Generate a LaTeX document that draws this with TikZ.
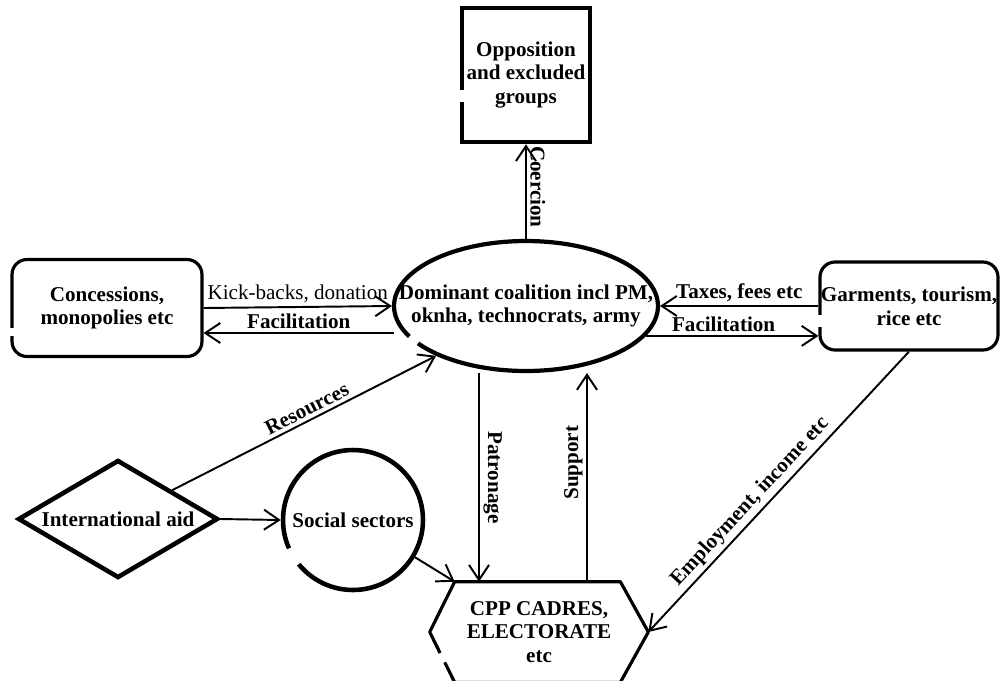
\documentclass[tikz,border=0pt]{standalone}
\usepackage{fontspec}
\setmainfont{Liberation Serif}
\usetikzlibrary{arrows.meta,shapes.geometric,calc}
\begin{document}
\begin{tikzpicture}[x=0.02cm,y=-0.02cm,
  txt/.style={font=\fontsize{12}{13.5}\selectfont\bfseries, align=center},
  lab/.style={font=\fontsize{12}{13.5}\selectfont\bfseries, inner sep=2pt},
  plainlab/.style={font=\fontsize{12}{13.5}\selectfont, inner sep=2pt},
  arr/.style={-{Straight Barb[length=0.3cm,width=0.4cm,line width=1.1pt]}, line width=1.1pt},
  heavy/.style={draw, line width=2.6pt},
  medium/.style={draw, line width=1.8pt},
  gapst/.style={white, line width=4pt},
  widegap/.style={white, line width=6.2pt},
]
\useasboundingbox (0,0) rectangle (1000,680);

% nodes
\node[txt, heavy, minimum width=2.56cm, minimum height=2.68cm, inner sep=0pt] (opp) at (526,75) {Opposition\\and excluded\\groups};
\node[ellipse, heavy, line width=2.4pt, minimum width=5.28cm, minimum height=2.6cm, inner sep=0pt] (dom) at (526,306) {};
\node[txt] (domtext) at (dom) {Dominant coalition incl PM,\\oknha, technocrats, army};
\node[txt, medium, rounded corners=0.3cm, minimum width=3.8cm, minimum height=1.94cm] (con) at (107,308) {Concessions,\\monopolies etc};
\node[txt, medium, rounded corners=0.3cm, minimum width=3.56cm, minimum height=1.76cm, inner sep=0pt] (gar) at (909,306) {Garments, tourism,\\rice etc};
\node[diamond, heavy, minimum width=4cm, minimum height=2.36cm, inner sep=0pt] (aid) at (118,519) {};
\node[txt] (aidtext) at (aid) {International aid};
\node[circle, heavy, minimum size=2.8cm, inner sep=0pt] (soc) at (353,520) {};
\node[txt] (soctext) at (soc) {Social sectors};
\node[txt, minimum width=4.36cm, minimum height=2cm] (cpp) at (539,632) {CPP CADRES,\\ELECTORATE\\etc};
\coordinate (cppTL) at ([xshift=0.5cm]cpp.north west);
\coordinate (cppTR) at ([xshift=-0.56cm]cpp.north east);
\coordinate (cppBR) at ([xshift=-0.56cm]cpp.south east);
\coordinate (cppBL) at ([xshift=0.5cm]cpp.south west);
\draw[line width=1.8pt, line join=round] (cpp.west) -- (cppTL) -- (cppTR) -- (cpp.east) -- (cppBR) -- (cppBL) -- cycle;

% hand-drawn breaks in the outlines
\draw[widegap] ([yshift=-0.3cm]opp.west) -- ([yshift=-0.54cm]opp.west);
\draw[widegap] ([yshift=-0.4cm]con.west) -- ([yshift=-0.56cm]con.west);
\draw[widegap] ([yshift=-0.18cm]gar.west) -- ([yshift=-0.42cm]gar.west);
\draw[gapst] (soc.center) ++(204:1.4cm) arc[start angle=204, end angle=219, radius=1.4cm];
\draw[gapst] ($(cpp.west)!0.42!(cppBL)$) -- ($(cpp.west)!0.6!(cppBL)$);
\draw[gapst] (dom.center) ++(208:2.64cm and 1.3cm) arc[start angle=208, end angle=215, x radius=2.64cm, y radius=1.3cm];

% connectors
\draw[arr] (dom.north) -- (opp.south) node[lab, pos=0.55, rotate=-90, anchor=south] {Coercion};

\draw[arr] (con.east) -- (dom.west) node[plainlab, midway, above] {Kick-backs, donation};
\coordinate (domL) at ([yshift=-0.54cm,xshift=0.04cm]dom.west);
\draw[arr] (domL) -- (domL -| con.east) node[lab, midway, above] {Facilitation};

\draw[arr] (gar.west) -- (dom.east) node[lab, midway, above] {Taxes, fees etc};
\coordinate (domR) at (dom.-14);
\draw[arr] (domR) -- (domR -| gar.west) node[lab, pos=0.45, above] {Facilitation};

\draw[arr] (aid.28) -- (dom.209) node[lab, pos=0.53, sloped, above] {Resources};
\draw[arr] (aid.east) -- (soc.west);
\draw[arr] (soc.-31) -- (cppTL);

\coordinate (pa) at ([xshift=-0.94cm]dom.south);
\draw[arr] (pa) -- (pa |- cpp.north) node[lab, midway, rotate=-90, anchor=south] {Patronage};
\coordinate (su) at ([xshift=1.22cm]dom.south);
\draw[arr] (su |- cpp.north) -- (su) node[lab, pos=0.57, sloped, above] {Support};

\draw[arr] (gar.south) -- (cpp.east) node[lab, pos=0.57, sloped, above] {Employment, income etc};
\end{tikzpicture}
\end{document}
